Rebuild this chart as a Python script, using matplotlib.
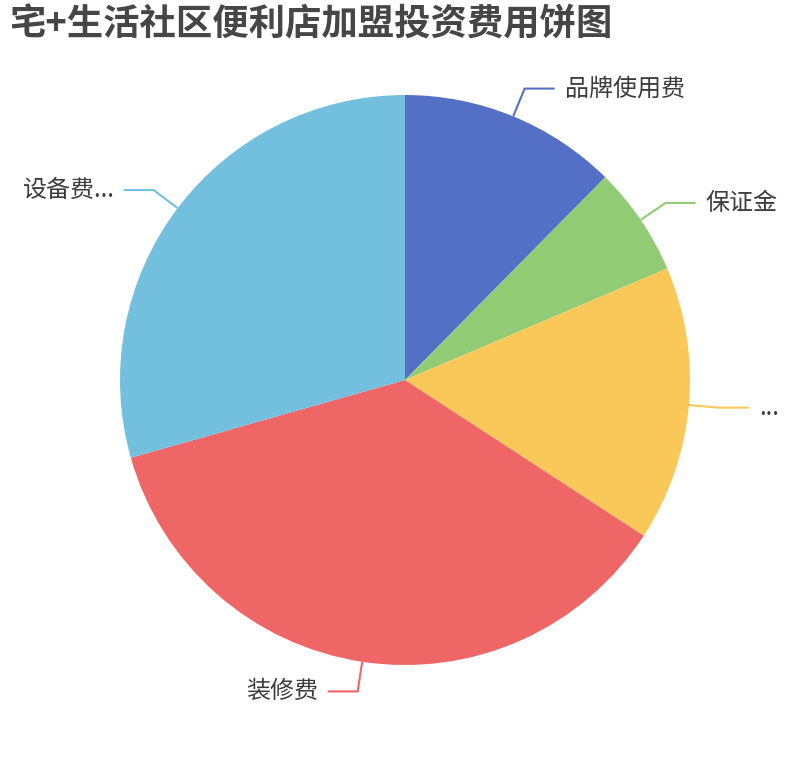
import numpy as np
import matplotlib
matplotlib.use('Agg')
import matplotlib.pyplot as plt

plt.rcParams['font.family'] = ['Noto Sans CJK SC', 'DejaVu Sans']

# data (shares of the total)
names = ['品牌使用费', '保证金', '...', '装修费', '设备费...']
values = [12.4, 6.2, 15.6, 36.4, 29.4]
colors = ['#5470c6', '#91cc75', '#fac858', '#ee6666', '#73c0de']

W, H = 810, 760
cx, cy, r = 405, 380, 285

fig = plt.figure(figsize=(W / 100, H / 100), dpi=100)
ax = fig.add_axes([0, 0, 1, 1])

wedges, _ = ax.pie(values, colors=colors, center=(cx, cy), radius=r,
                   startangle=90, counterclock=False,
                   wedgeprops=dict(linewidth=0.3, edgecolor='none'))

# pie() resets the limits, so set them afterwards
ax.set_xlim(0, W)
ax.set_ylim(0, H)
ax.set_aspect('equal')
ax.axis('off')

# label lines: radial segment then horizontal segment
for w, name, col in zip(wedges, names, colors):
    mid = np.deg2rad((w.theta1 + w.theta2) / 2)
    dx, dy = np.cos(mid), np.sin(mid)
    x0, y0 = cx + r * dx, cy + r * dy
    x1, y1 = cx + (r + 30) * dx, cy + (r + 30) * dy
    side = 1 if dx >= 0 else -1
    x2 = x1 + 30 * side
    ax.plot([x0, x1, x2], [y0, y1, y1], color=col, lw=1.5, solid_capstyle='butt')
    ax.text(x2 + 10 * side, y1, name, fontsize=17.3, color='#3c3c3c',
            ha='left' if side > 0 else 'right', va='center')

fig.text(9 / W, 1 - 25 / H, '宅+生活社区便利店加盟投资费用饼图', fontsize=26.2,
         fontweight='bold', color='#464646', ha='left', va='center')

fig.savefig('out.png', dpi=100)
